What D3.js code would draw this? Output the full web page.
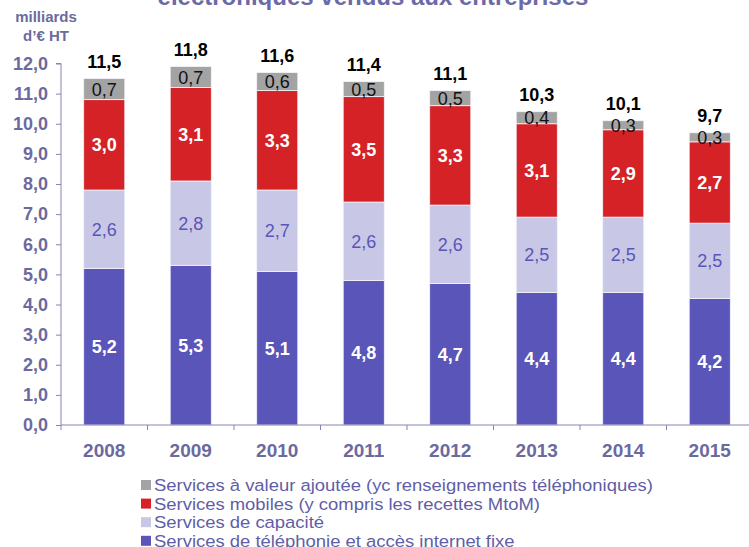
<!DOCTYPE html>
<html>
<head>
<meta charset="utf-8">
<script src="https://cdn.jsdelivr.net/npm/d3@7"></script>
<style>
  html, body { margin: 0; padding: 0; background: #fff; }
  svg { display: block; font-family: Arial, "Liberation Sans", sans-serif; }
</style>
</head>
<body>
<svg id="chart" width="749" height="547"></svg>
<script>
// Chiffre d'affaires des services vendus aux entreprises (milliards d'€ HT)
const years = ["2008", "2009", "2010", "2011", "2012", "2013", "2014", "2015"];
const fixe = [5.2, 5.3, 5.1, 4.8, 4.7, 4.4, 4.4, 4.2];
const capacite = [2.6, 2.8, 2.7, 2.6, 2.6, 2.5, 2.5, 2.5];
const mobiles = [3.0, 3.1, 3.3, 3.5, 3.3, 3.1, 2.9, 2.7];
const valeurAjoutee = [0.7, 0.7, 0.6, 0.5, 0.5, 0.4, 0.3, 0.3];
const totals = [11.5, 11.8, 11.6, 11.4, 11.1, 10.3, 10.1, 9.7];
const yTicks = [0, 1, 2, 3, 4, 5, 6, 7, 8, 9, 10, 11, 12];

const seriesKeys = ["fixe", "capacite", "mobiles", "valeurAjoutee"];
const seriesNames = {
  fixe: "Services de téléphonie et accès internet fixe",
  capacite: "Services de capacité",
  mobiles: "Services mobiles (y compris les recettes MtoM)",
  valeurAjoutee: "Services à valeur ajoutée (yc renseignements téléphoniques)"
};
const colors = { fixe: "#5a55b8", capacite: "#c9c7e6", mobiles: "#d42226", valeurAjoutee: "#a3a3a3" };
const labelStyle = {
  fixe: { fill: "#ffffff", weight: "bold" },
  capacite: { fill: "#5a55b8", weight: "normal" },
  mobiles: { fill: "#ffffff", weight: "bold" },
  valeurAjoutee: { fill: "#111111", weight: "normal" }
};

const rows = years.map((yr, i) => ({
  year: yr, fixe: fixe[i], capacite: capacite[i], mobiles: mobiles[i],
  valeurAjoutee: valeurAjoutee[i], total: totals[i]
}));

const fmt = v => d3.format(".1f")(v).replace(".", ",");
const axisColor = "#8584b4";
const textColor = "#6b6a9e";

const svg = d3.select("#chart");

const x = d3.scaleBand().domain(years).range([61, 753]).paddingInner(0.525).paddingOuter(0.2625);
const y = d3.scaleLinear().domain([0, 12]).range([425, 63.5]);

// Title (second line)
svg.append("text")
  .attr("x", 373).attr("y", 5)
  .attr("text-anchor", "middle")
  .attr("font-size", 24).attr("font-weight", "bold")
  .attr("fill", "#6b6aa6")
  .text("électroniques vendus aux entreprises");

// Unit label
const unit = svg.append("text")
  .attr("text-anchor", "middle")
  .attr("font-family", "'Liberation Sans Narrow', 'Arial Narrow', Arial, sans-serif")
  .attr("font-size", 15).attr("font-weight", "bold")
  .attr("fill", textColor);
unit.append("tspan").attr("x", 46).attr("y", 22).text("milliards");
unit.append("tspan").attr("x", 46).attr("y", 41).text("d’€ HT");

// Stacked bars
const stack = d3.stack().keys(seriesKeys);
const layers = stack(rows);

const layerG = svg.append("g").selectAll("g")
  .data(layers).join("g")
  .attr("fill", d => colors[d.key]);

layerG.selectAll("rect")
  .data(d => d.map(p => ({ key: d.key, p })))
  .join("rect")
  .attr("x", d => x(d.p.data.year))
  .attr("width", x.bandwidth())
  .attr("y", d => y(d.p[1]))
  .attr("height", d => y(d.p[0]) - y(d.p[1]))
  .attr("stroke", "#f4f4fb")
  .attr("stroke-width", 0.8);

// Segment value labels
layerG.selectAll("text")
  .data(d => d.map(p => ({ key: d.key, p })))
  .join("text")
  .attr("x", d => x(d.p.data.year) + x.bandwidth() / 2)
  .attr("y", d => (y(d.p[0]) + y(d.p[1])) / 2)
  .attr("dy", "0.36em")
  .attr("text-anchor", "middle")
  .attr("font-size", 18)
  .attr("font-weight", d => labelStyle[d.key].weight)
  .attr("fill", d => labelStyle[d.key].fill)
  .text(d => fmt(d.p.data[d.key]));

// Totals above bars
const topLayer = layers[layers.length - 1];
svg.append("g").selectAll("text")
  .data(topLayer)
  .join("text")
  .attr("x", d => x(d.data.year) + x.bandwidth() / 2)
  .attr("y", d => y(d[1]) - 11)
  .attr("text-anchor", "middle")
  .attr("font-size", 18).attr("font-weight", "bold")
  .attr("fill", "#000")
  .text(d => fmt(d.data.total));

// Y axis
const yAxis = svg.append("g")
  .attr("transform", "translate(61,0)")
  .call(d3.axisLeft(y).tickValues(yTicks).tickFormat(fmt).tickSize(5).tickPadding(8));
yAxis.select(".domain").attr("stroke", axisColor).attr("d", `M-5,${y(12)}H0V${y(0)}`);
yAxis.selectAll(".tick line").attr("stroke", axisColor);
yAxis.selectAll(".tick text")
  .attr("fill", textColor).attr("font-size", 18).attr("font-weight", "bold")
  .attr("font-family", "Arial, 'Liberation Sans', sans-serif");

// X axis
const xAxis = svg.append("g")
  .attr("transform", `translate(0,${y(0)})`)
  .call(d3.axisBottom(x).tickSize(0).tickPadding(19));
xAxis.select(".domain").attr("stroke", axisColor).attr("d", `M61,0H753`);
xAxis.selectAll(".tick text")
  .attr("fill", textColor).attr("font-size", 19).attr("font-weight", "bold")
  .attr("font-family", "Arial, 'Liberation Sans', sans-serif");
// Category separators
const step = x.step();
xAxis.append("g").selectAll("line")
  .data(d3.range(0, years.length + 1))
  .join("line")
  .attr("x1", i => 61 + i * step).attr("x2", i => 61 + i * step)
  .attr("y1", 0).attr("y2", 5)
  .attr("stroke", axisColor);

// Legend
const legendOrder = ["valeurAjoutee", "mobiles", "capacite", "fixe"];
const legend = svg.append("g")
  .selectAll("g")
  .data(legendOrder)
  .join("g")
  .attr("transform", (d, i) => `translate(141,${485 + i * 18.6})`);
legend.append("rect")
  .attr("x", 0).attr("y", -5).attr("width", 10).attr("height", 10)
  .attr("fill", d => colors[d]);
legend.append("text")
  .attr("transform", "translate(13,0) scale(1.085,1)")
  .attr("x", 0).attr("y", 0).attr("dy", "0.36em")
  .attr("font-size", 17).attr("fill", "#5f5ea6")
  .text(d => seriesNames[d]);
</script>
</body>
</html>
